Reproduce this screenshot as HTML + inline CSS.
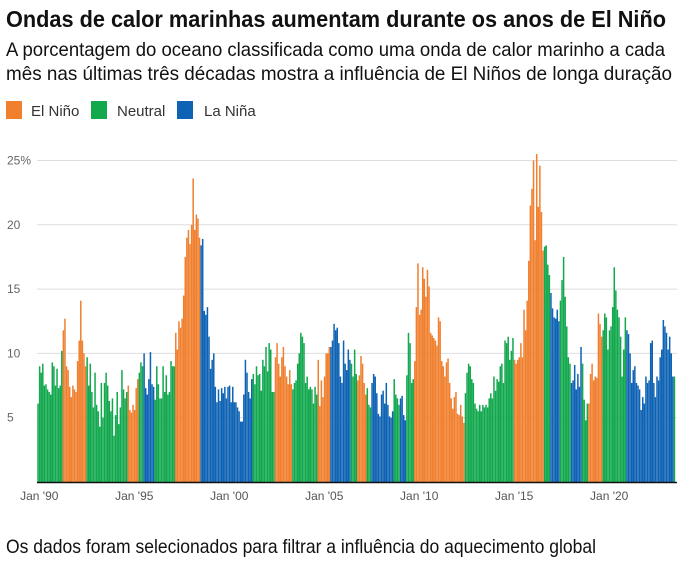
<!DOCTYPE html>
<html><head><meta charset="utf-8"><style>
html,body{margin:0;padding:0;background:#fff;width:681px;height:569px;overflow:hidden}
svg{display:block}
</style></head><body>
<svg id="chart" width="681" height="569" viewBox="0 0 681 569" xmlns="http://www.w3.org/2000/svg">
<text x="6" y="27" font-family="'Liberation Sans Narrow','Liberation Sans',sans-serif" font-weight="bold" font-size="23" textLength="660" lengthAdjust="spacingAndGlyphs" fill="#111">Ondas de calor marinhas aumentam durante os anos de El Niño</text>
<text x="6" y="56" font-family="'Liberation Sans Narrow','Liberation Sans',sans-serif" font-size="19.5" textLength="659" lengthAdjust="spacingAndGlyphs" fill="#111">A porcentagem do oceano classificada como uma onda de calor marinho a cada</text>
<text x="6" y="80" font-family="'Liberation Sans Narrow','Liberation Sans',sans-serif" font-size="19.5" textLength="666" lengthAdjust="spacingAndGlyphs" fill="#111">mês nas últimas três décadas mostra a influência de El Niños de longa duração</text>
<g font-family="'Liberation Sans',sans-serif" font-size="15" fill="#333">
<rect x="6" y="101" width="16" height="18" fill="#f07f2e"/>
<text x="31" y="116">El Niño</text>
<rect x="91" y="101" width="16" height="18" fill="#12a84e"/>
<text x="117" y="116">Neutral</text>
<rect x="177" y="101" width="16" height="18" fill="#0f63b4"/>
<text x="204" y="116">La Niña</text>
</g>
<g id="grid"></g>
<g id="bars"></g>
<line x1="37" y1="482.5" x2="677" y2="482.5" stroke="#111" stroke-width="1.5"/>
<g id="xlabels"></g>
<text x="6" y="553" font-family="'Liberation Sans Narrow','Liberation Sans',sans-serif" font-size="19.5" textLength="590" lengthAdjust="spacingAndGlyphs" fill="#111">Os dados foram selecionados para filtrar a influência do aquecimento global</text>
</svg>
<script>
const yTicks = [5, 10, 15, 20, 25];
const yTickLabels = ["5", "10", "15", "20", "25%"];
const xTickYears = [1990, 1995, 2000, 2005, 2010, 2015, 2020];
const xTickLabels = ["Jan '90", "Jan '95", "Jan '00", "Jan '05", "Jan '10", "Jan '15", "Jan '20"];
const phaseRuns = [["N",16],["E",15],["N",26],["E",7],["N",3],["L",7],["N",13],["E",16],["L",33],["N",14],["E",11],["N",16],["E",8],["L",13],["N",4],["E",6],["N",3],["L",14],["N",4],["L",4],["N",5],["E",32],["N",27],["N",4],["E",19],["N",4],["L",6],["N",7],["L",7],["N",4],["E",9],["N",15],["L",30],["N",1]];
const values = [
6.1,9.0,8.5,9.2,7.5,7.6,7.2,7.0,6.8,9.3,9.0,7.5,8.8,7.3,7.5,10.2,
11.8,12.7,9.0,8.7,7.4,6.6,7.5,7.2,7.0,9.4,11.0,14.1,11.0,10.0,9.0,
9.7,7.5,9.2,7.0,5.8,8.5,6.0,5.5,4.3,7.7,5.0,7.7,8.5,7.5,6.3,5.5,6.5,3.6,5.2,7.0,4.5,5.8,8.7,7.2,6.5,7.0,
7.5,5.6,5.4,6.0,5.6,7.3,8.0,
8.5,9.3,9.0,
10.0,7.3,6.8,8.0,10.1,7.6,7.4,
6.4,9.0,7.6,6.5,6.5,9.0,7.0,8.3,6.8,7.0,9.4,9.0,9.0,
11.6,10.3,12.5,12.0,12.7,14.5,17.5,19.0,19.6,18.5,20.0,23.6,19.6,20.8,20.5,19.0,
18.4,18.9,13.3,13.0,13.6,11.3,8.8,9.5,10.0,7.4,6.2,7.2,6.3,7.3,6.9,7.4,6.5,7.4,7.5,6.2,7.4,6.2,6.2,5.8,5.5,4.7,4.7,6.8,9.5,8.5,7.0,6.5,8.0,
8.4,7.6,9.0,8.3,8.4,7.1,9.5,9.0,10.5,8.6,10.8,10.3,7.0,7.0,
9.7,10.8,9.2,8.2,9.7,10.5,9.0,8.2,7.6,8.7,7.6,
7.2,7.7,7.9,9.2,10.0,11.6,11.3,10.8,7.7,8.2,7.2,7.4,7.2,6.1,7.4,6.8,
9.5,5.9,7.9,6.6,8.2,10.0,10.0,10.5,
10.5,11.0,12.3,11.8,12.0,10.8,8.2,7.7,11.0,9.2,8.7,10.3,9.5,
9.2,8.2,10.3,8.4,
7.9,8.3,9.8,9.2,7.7,6.8,
7.3,6.0,5.8,
7.7,8.4,8.2,6.9,5.3,5.1,6.8,7.1,6.1,7.7,6.0,5.1,5.0,5.5,
8.0,6.8,6.5,6.0,
6.5,6.7,5.2,4.8,
8.3,11.6,10.8,7.7,8.0,
9.4,13.6,17.0,13.0,13.4,16.7,15.8,14.4,16.5,15.2,11.6,11.4,11.2,11.0,10.6,12.8,12.5,9.4,9.0,8.2,9.3,9.6,7.7,6.5,5.7,6.6,7.0,5.3,5.2,6.0,5.1,4.6,
6.9,8.5,9.2,9.0,8.0,7.7,6.1,5.7,5.5,6.0,5.5,6.0,5.8,6.0,5.8,6.5,6.9,6.5,8.2,7.1,8.0,7.8,9.0,9.2,7.7,11.0,10.8,
11.3,9.5,10.2,11.2,
9.5,9.2,9.5,9.7,10.8,9.7,13.4,11.8,14.1,17.2,21.5,22.8,25.0,18.8,25.5,21.4,24.6,21.0,18.0,
18.3,18.4,16.9,16.1,
14.7,13.5,12.8,12.7,13.4,12.5,
14.1,15.7,17.5,14.4,12.1,9.7,9.2,
7.7,7.9,9.1,7.2,8.4,7.4,10.5,
9.2,6.4,4.8,6.1,
6.1,8.4,9.2,7.9,8.2,8.1,13.1,12.3,11.3,
11.8,13.1,12.8,10.3,11.8,12.1,13.6,16.7,14.9,13.4,12.8,11.3,8.2,10.3,12.8,
11.8,11.5,10.0,7.7,8.7,9.0,7.7,7.5,7.2,5.6,6.6,6.1,8.2,7.7,7.9,10.8,11.0,7.7,6.6,8.2,7.9,9.7,10.3,12.6,12.1,11.6,10.3,11.3,10.0,8.2,
8.2
];

const NS = "http://www.w3.org/2000/svg";
const colors = {E: "#f07f2e", N: "#12a84e", L: "#0f63b4"};
const x0 = 37.3, step = 1.583;
const yBase = 482, pxPerUnit = 12.86;
function xScale(monthIndex) { return x0 + monthIndex * step; }
function yScale(v) { return yBase - v * pxPerUnit; }

const phases = [];
phaseRuns.forEach(function (r) { for (let i = 0; i < r[1]; i++) phases.push(r[0]); });

const grid = document.getElementById("grid");
yTicks.forEach(function (t, i) {
  const ln = document.createElementNS(NS, "line");
  
  
  ln.setAttribute("x1", 37); ln.setAttribute("x2", 677);
  ln.setAttribute("y1", yScale(t)); ln.setAttribute("y2", yScale(t));
  ln.setAttribute("stroke", "#dedede"); ln.setAttribute("stroke-width", "1");
  grid.appendChild(ln);
  const tx = document.createElementNS(NS, "text");
  
  
  tx.setAttribute("x", 7); tx.setAttribute("y", yScale(t) + 4);
  tx.setAttribute("font-family", "'Liberation Sans',sans-serif");
  tx.setAttribute("font-size", "12"); tx.setAttribute("fill", "#666");
  tx.textContent = yTickLabels[i];
  grid.appendChild(tx);
});

const bars = document.getElementById("bars");
values.forEach(function (v, i) {
  const r = document.createElementNS(NS, "rect");
  
  
  r.setAttribute("x", xScale(i));
  r.setAttribute("width", step * 0.95);
  r.setAttribute("y", yScale(v));
  r.setAttribute("height", yBase - yScale(v));
  r.setAttribute("fill", colors[phases[i] || "N"]);
  bars.appendChild(r);
});

const xl = document.getElementById("xlabels");
xTickYears.forEach(function (yr, i) {
  const tx = document.createElementNS(NS, "text");
  
  
  tx.setAttribute("x", xScale((yr - 1990) * 12) + 2);
  tx.setAttribute("y", 500);
  tx.setAttribute("text-anchor", "middle");
  tx.setAttribute("font-family", "'Liberation Sans',sans-serif");
  tx.setAttribute("font-size", "12"); tx.setAttribute("fill", "#555");
  tx.textContent = xTickLabels[i];
  xl.appendChild(tx);
});
</script>
</body></html>
